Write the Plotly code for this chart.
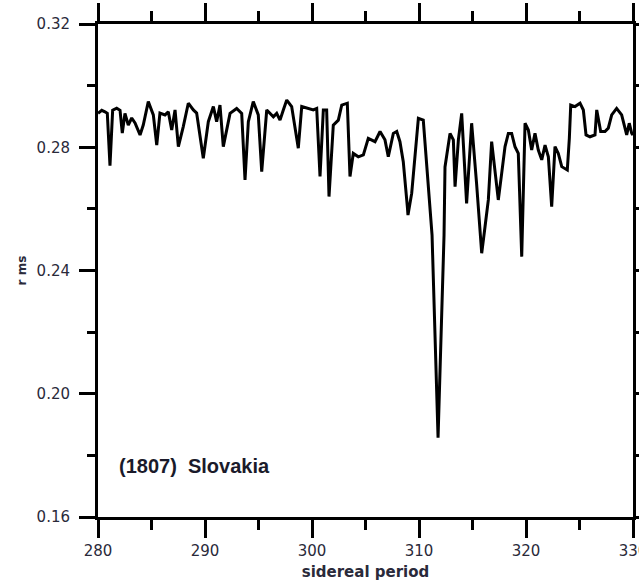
import plotly.graph_objects as go

period = [280.0, 280.35, 280.65, 280.87, 281.12, 281.37, 281.75, 282.06, 282.27, 282.52,
          282.83, 283.15, 283.46, 283.93, 284.23, 284.70, 285.17, 285.49, 285.79, 286.26,
          286.57, 286.89, 287.20, 287.51, 287.97, 288.44, 288.91, 289.22, 289.84, 290.31,
          290.78, 291.09, 291.40, 291.71, 292.34, 292.96, 293.43, 293.74, 294.05, 294.51,
          294.98, 295.30, 295.77, 296.39, 296.70, 297.01, 297.32, 297.64, 298.10, 298.41,
          298.72, 299.04, 299.66, 300.12, 300.44, 300.75, 301.06, 301.37, 301.59, 301.99,
          302.46, 302.78, 303.30, 303.55, 303.86, 304.33, 304.80, 305.26, 305.89, 306.36,
          306.82, 307.13, 307.60, 307.92, 308.22, 308.53, 308.91, 308.97, 309.32, 309.63,
          309.94, 310.40, 310.72, 311.22, 311.78, 312.34, 312.43, 312.74, 312.90, 313.21,
          313.37, 313.68, 313.99, 314.45, 314.92, 315.38, 315.86, 316.17, 316.48, 316.79,
          317.10, 317.41, 317.73, 318.04, 318.35, 318.66, 318.97, 319.28, 319.60, 319.91,
          320.22, 320.53, 320.84, 321.15, 321.47, 321.78, 322.09, 322.40, 322.71, 323.02,
          323.34, 323.86, 324.05, 324.18, 324.58, 325.05, 325.36, 325.61, 325.98, 326.45,
          326.61, 326.76, 326.98, 327.38, 327.69, 328.01, 328.47, 328.94, 329.41, 329.65,
          329.88, 330.0]

rms = [0.2910, 0.2920, 0.2915, 0.2910, 0.2740, 0.2920, 0.2927, 0.2920, 0.2846, 0.2910,
       0.2872, 0.2895, 0.2879, 0.2840, 0.2872, 0.2948, 0.2905, 0.2807, 0.2911, 0.2905,
       0.2915, 0.2856, 0.2921, 0.2802, 0.2867, 0.2943, 0.2921, 0.2911, 0.2764, 0.2883,
       0.2932, 0.2883, 0.2937, 0.2802, 0.2910, 0.2926, 0.2910, 0.2694, 0.2883, 0.2948,
       0.2905, 0.2721, 0.2921, 0.2899, 0.2910, 0.2888, 0.2921, 0.2953, 0.2932, 0.2856,
       0.2797, 0.2932, 0.2926, 0.2921, 0.2926, 0.2705, 0.2921, 0.2921, 0.2640, 0.2872,
       0.2888, 0.2937, 0.2943, 0.2705, 0.2780, 0.2769, 0.2775, 0.2829, 0.2818, 0.2851,
       0.2824, 0.2769, 0.2845, 0.2851, 0.2818, 0.2753, 0.2607, 0.2580, 0.2651, 0.2769,
       0.2894, 0.2888, 0.2742, 0.2515, 0.1857, 0.2515, 0.2736, 0.2813, 0.2845, 0.2824,
       0.2672, 0.2824, 0.2910, 0.2618, 0.2878, 0.2683, 0.2456, 0.2542, 0.2629, 0.2818,
       0.2726, 0.2629, 0.2716, 0.2802, 0.2845, 0.2845, 0.2802, 0.2780, 0.2445, 0.2878,
       0.2856, 0.2791, 0.2845, 0.2791, 0.2759, 0.2807, 0.2769, 0.2607, 0.2802, 0.2780,
       0.2737, 0.2726, 0.2829, 0.2937, 0.2932, 0.2943, 0.2921, 0.2840, 0.2834, 0.2840,
       0.2921, 0.2888, 0.2851, 0.2851, 0.2862, 0.2905, 0.2926, 0.2905, 0.2840, 0.2878,
       0.2845, 0.2840]

x_ticks = [280, 290, 300, 310, 320, 330]
y_ticks = [0.16, 0.20, 0.24, 0.28, 0.32]
label = "(1807)  Slovakia"

fig = go.Figure()
fig.add_trace(go.Scatter(x=period, y=rms, mode="lines",
                         line=dict(color="black", width=3), showlegend=False))

tick_font = dict(family="DejaVu Sans", size=15, color="#2a2a3a")

fig.update_xaxes(range=[280, 330], tickvals=x_ticks, ticktext=[str(v) for v in x_ticks],
                 ticks="outside", ticklen=18, tickwidth=3, tickcolor="black",
                 showline=True, linewidth=3, linecolor="black", mirror="ticks",
                 showgrid=False, zeroline=False, tickfont=tick_font,
                 ticklabeloverflow="allow", automargin=False,
                 minor=dict(dtick=5, tick0=280, ticks="outside", ticklen=10,
                            tickwidth=3, tickcolor="black", showgrid=False),
                 title=dict(text="sidereal period", standoff=8,
                            font=dict(family="DejaVu Sans", size=15, color="#2a2a3a",
                                      weight="bold")))
fig.update_yaxes(range=[0.16, 0.32], tickvals=y_ticks, ticktext=["%.2f" % v for v in y_ticks],
                 ticks="outside", ticklen=16, tickwidth=3, tickcolor="black",
                 showline=True, linewidth=3, linecolor="black", mirror="ticks",
                 showgrid=False, zeroline=False, tickfont=tick_font,
                 ticklabelstandoff=6, automargin=False,
                 minor=dict(dtick=0.02, tick0=0.16, ticks="outside", ticklen=8,
                            tickwidth=3, tickcolor="black", showgrid=False),
                 title=dict(text="r ms", standoff=8,
                            font=dict(family="DejaVu Sans", size=12, color="#2a2a3a",
                                      weight="bold")))

fig.add_annotation(text=label, xref="paper", yref="paper", x=0.0355, y=0.1034,
                   xanchor="left", yanchor="middle", showarrow=False,
                   font=dict(family="Liberation Sans", size=20, color="#1a1a2a",
                             weight="bold"))

fig.update_layout(width=639, height=582, margin=dict(l=98, r=6, t=24, b=65),
                  plot_bgcolor="white", paper_bgcolor="white")

fig.write_html("out.html")
